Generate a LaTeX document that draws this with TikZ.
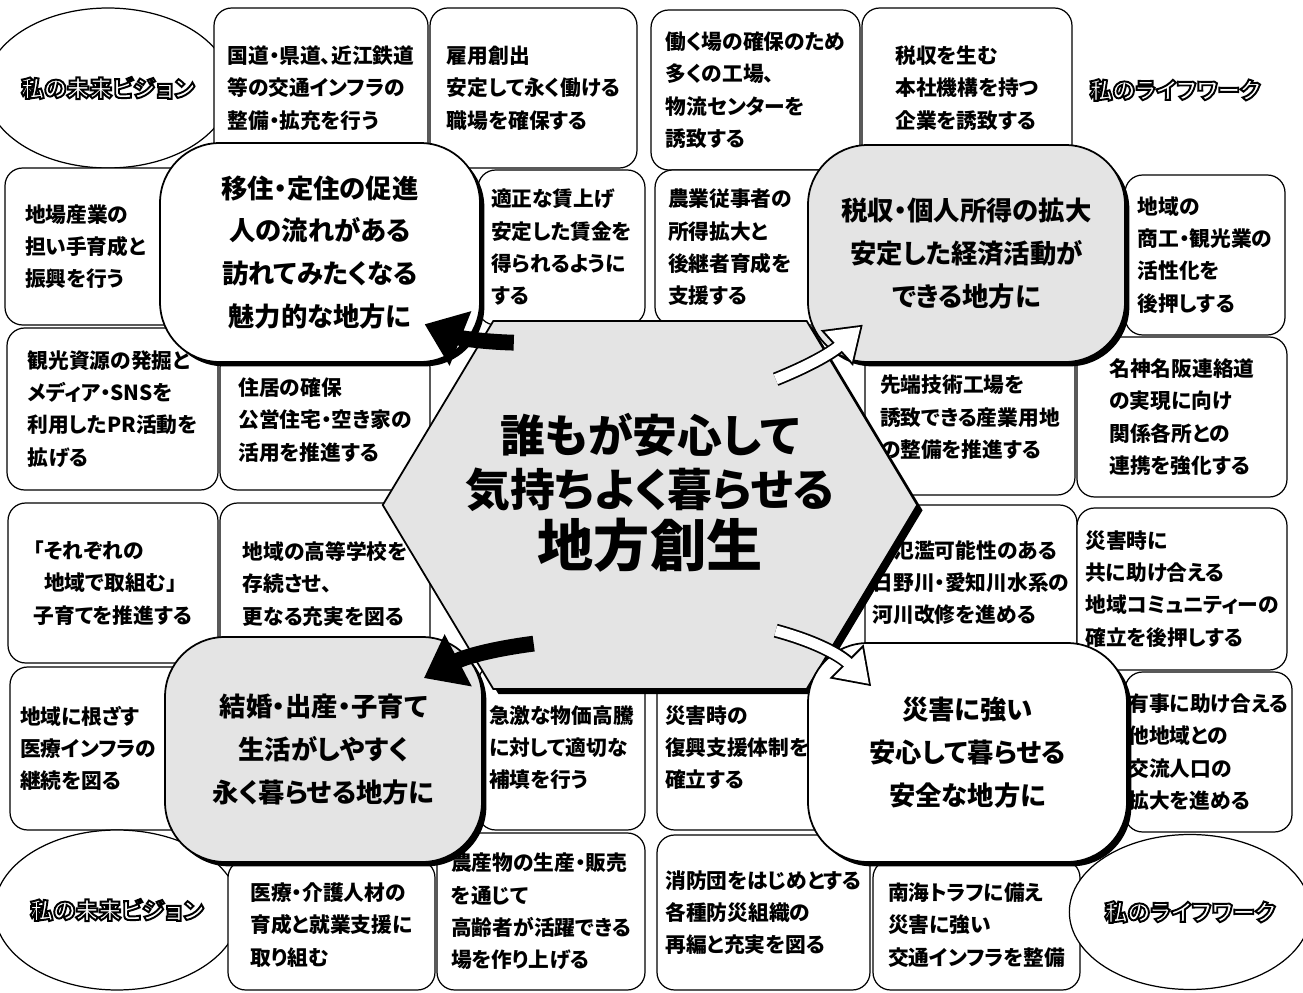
\documentclass[tikz,border=0pt]{standalone}
\usepackage{fontspec}
\setmainfont{Noto Sans CJK JP}[RawFeature=+palt]
\usetikzlibrary{arrows.meta, positioning, shapes.geometric, shapes.symbols, calc, shadows}
\definecolor{dotGray}{HTML}{E4E4E4}
% hollow (outlined) lettering for the two title words
\newcommand{\vtitle}[1]{\special{pdf:literal direct 1 Tr 1.1 w}#1\special{pdf:literal direct 0 Tr}}
\tikzset{
  cellbox/.style={rectangle, rounded corners=10pt, draw=black, fill=white,
                  line width=0.7pt, align=left, inner sep=2pt,
                  font=\bfseries\fontsize{11.8pt}{18.4pt}\selectfont},
  cellL/.style={cellbox, inner xsep=#1},
  vision/.style={ellipse, draw=black, fill=white, line width=0.7pt, inner sep=0pt,
                 font=\bfseries\fontsize{13pt}{15pt}\selectfont},
  bubble/.style={rectangle, rounded corners=34pt, draw=black, fill=white,
                 line width=1pt, align=center,
                 font=\bfseries\fontsize{15pt}{24.4pt}\selectfont,
                 drop shadow={shadow xshift=2.5pt, shadow yshift=-2.5pt,
                              fill=black, opacity=1}},
  bubbleS/.style={bubble, fill=dotGray},
  hexa/.style={signal, signal to=west and east, signal pointer angle=118,
               draw=black, fill=dotGray, line width=1pt, align=center,
               font=\bfseries\fontsize{25.5pt}{31pt}\selectfont,
               drop shadow={shadow xshift=3pt, shadow yshift=-3pt,
                            fill=black, opacity=1}},
  arrowK/.style={-{Triangle[length=22pt, width=32pt]}, line width=9pt, black},
  arrowW/.style={-{Triangle[length=20pt, width=26pt]}, line width=8pt, black,
                 postaction={draw=white, line width=6pt, shorten >=1.84pt,
                             -{Triangle[length=17pt, width=22pt]}}},
}
\begin{document}
\begin{tikzpicture}[x=0.02cm, y=-0.02cm]
  \useasboundingbox[fill=white] (0,0) rectangle (1303,993);

  % top row
  \node[vision, minimum width=4.14cm, minimum height=3.2cm] (visT) at (108,88) {\vtitle{私の未来ビジョン}};
  \node[cellbox, minimum width=4.28cm, minimum height=3.2cm] (road) at (321,88)
    {国道・県道、近江鉄道\\等の交通インフラの\\整備・拡充を行う};
  \node[cellbox, minimum width=4.14cm, minimum height=3.2cm] (jobs) at (533.5,88)
    {雇用創出\\安定して永く働ける\\職場を確保する};
  \node[cellbox, minimum width=4.18cm, minimum height=3.2cm] (plant) at (755.5,90)
    {働く場の確保のため\\多くの工場、\\物流センターを\\誘致する};
  \node[cellbox, minimum width=4.2cm, minimum height=3.2cm] (hq) at (967,88)
    {税収を生む\\本社機構を持つ\\企業を誘致する};
  \node[font=\bfseries\fontsize{13pt}{15pt}\selectfont] (lwT) at (1175,90) {\vtitle{私のライフワーク}};

  % second row
  \node[cellL=0.4cm, text width=3.4cm, minimum width=4.2cm, minimum height=3.14cm] (craft) at (110,246.5)
    {地場産業の\\担い手育成と\\振興を行う};
  \node[cellbox, minimum width=3.34cm, minimum height=3.1cm] (wage) at (561.5,247.5)
    {適正な賃上げ\\安定した賃金を\\得られるように\\する};
  \node[cellL=0.26cm, text width=3.58cm, minimum width=4.1cm, minimum height=3.1cm] (farm) at (757.5,247.5)
    {農業従事者の\\所得拡大と\\後継者育成を\\支援する};
  \node[cellbox, minimum width=3.2cm, minimum height=3.2cm] (shop) at (1205,255)
    {地域の\\商工・観光業の\\活性化を\\後押しする};

  % third row
  \node[cellbox, minimum width=4.22cm, minimum height=3.24cm] (pr) at (112.5,409)
    {観光資源の発掘と\\メディア・SNSを\\利用したPR活動を\\拡げる};
  \node[cellbox, minimum width=4.2cm, minimum height=2.8cm] (house) at (325,420)
    {住居の確保\\公営住宅・空き家の\\活用を推進する};
  \node[cellbox, minimum width=4.2cm, minimum height=3.1cm] (site) at (970,417.5)
    {先端技術工場を\\誘致できる産業用地\\の整備を推進する};
  \node[cellbox, minimum width=4.2cm, minimum height=3.2cm] (link) at (1182,417)
    {名神名阪連絡道\\の実現に向け\\関係各所との\\連携を強化する};

  % fourth row
  \node[cellbox, minimum width=4.2cm, minimum height=3.2cm] (child) at (113,583)
    {「それぞれの\\\hspace{0.5em}地域で取組む」\\子育てを推進する};
  \node[cellbox, minimum width=4.2cm, minimum height=3.24cm] (school) at (325,584)
    {地域の高等学校を\\存続させ、\\更なる充実を図る};
  \node[cellbox, minimum width=4.24cm, minimum height=3.1cm] (river) at (971,582.5)
    {\hspace{1em}氾濫可能性のある\\日野川・愛知川水系の\\河川改修を進める};
  \node[cellbox, minimum width=4.2cm, minimum height=3.24cm] (commu) at (1182,589)
    {災害時に\\共に助け合える\\地域コミュニティーの\\確立を後押しする};

  % fifth row
  \node[cellL=0.2cm, text width=3.64cm, minimum width=4.04cm, minimum height=3.26cm] (clinic) at (111,748.5)
    {地域に根ざす\\医療インフラの\\継続を図る};
  \node[cellbox, minimum width=3.34cm, minimum height=3.3cm] (price) at (561.5,747.5)
    {急激な物価高騰\\に対して適切な\\補填を行う};
  \node[cellL=0.16cm, text width=3.74cm, minimum width=4.06cm, minimum height=3.3cm] (relief) at (758.5,747.5)
    {災害時の\\復興支援体制を\\確立する};
  \node[cellbox, minimum width=3.26cm, minimum height=3.2cm] (mutual) at (1208.5,752)
    {有事に助け合える\\他地域との\\交流人口の\\拡大を進める};

  % bottom row
  \node[vision, minimum width=4.3cm, minimum height=3.2cm] (visB) at (117,910) {\vtitle{私の未来ビジョン}};
  \node[cellbox, minimum width=4.14cm, minimum height=2.6cm] (care) at (331.5,925)
    {医療・介護人材の\\育成と就業支援に\\取り組む};
  \node[cellbox, minimum width=4.16cm, minimum height=3.14cm] (agri) at (541,911.5)
    {農産物の生産・販売\\を通じて\\高齢者が活躍できる\\場を作り上げる};
  \node[cellbox, minimum width=4.26cm, minimum height=3.1cm] (fire) at (763.5,912.5)
    {消防団をはじめとする\\各種防災組織の\\再編と充実を図る};
  \node[cellbox, minimum width=4.14cm, minimum height=2.6cm] (quake) at (976.5,925)
    {南海トラフに備え\\災害に強い\\交通インフラを整備};
  \node[vision, minimum width=4.2cm, minimum height=3.1cm] (lwB) at (1190,912) {\vtitle{私のライフワーク}};

  % centre and goals
  \node[hexa, inner xsep=-0.55cm, minimum height=7.36cm, text depth=17.5pt] (hex) at (650,505)
    {誰もが安心して\\気持ちよく暮らせる\\[3pt]{\fontsize{32pt}{36pt}\selectfont 地方創生}};
  \node[bubble, minimum width=6.4cm, minimum height=4.38cm] (move) at (320,252.5)
    {移住・定住の促進\\人の流れがある\\訪れてみたくなる\\魅力的な地方に};
  \node[bubbleS, minimum width=6.34cm, minimum height=4.34cm] (tax) at (966.5,253.5)
    {税収・個人所得の拡大\\安定した経済活動が\\できる地方に};
  \node[bubbleS, minimum width=6.34cm, minimum height=4.5cm] (family) at (323.5,749.5)
    {結婚・出産・子育て\\生活がしやすく\\永く暮らせる地方に};
  \node[bubble, minimum width=6.38cm, minimum height=4.38cm] (safe) at (967.5,752.5)
    {災害に強い\\安心して暮らせる\\安全な地方に};

  \draw[arrowK] ($(hex.center)!0.88!(hex.130)$) to[bend left=10] ($(move.center)!0.65!(move.south east)$);
  \draw[arrowW] ($(hex.center)!0.75!(hex.45)$) to[bend right=10] ($(tax.center)!0.65!(tax.south west)$);
  \draw[arrowK] ($(hex.center)!0.75!(hex.230)$) to[bend right=10] ($(family.center)!0.63!(family.north east)$);
  \draw[arrowW] ($(hex.center)!0.75!(hex.-45)$) to[bend left=15] ($(safe.center)!0.6!(safe.north west)$);
\end{tikzpicture}
\end{document}
